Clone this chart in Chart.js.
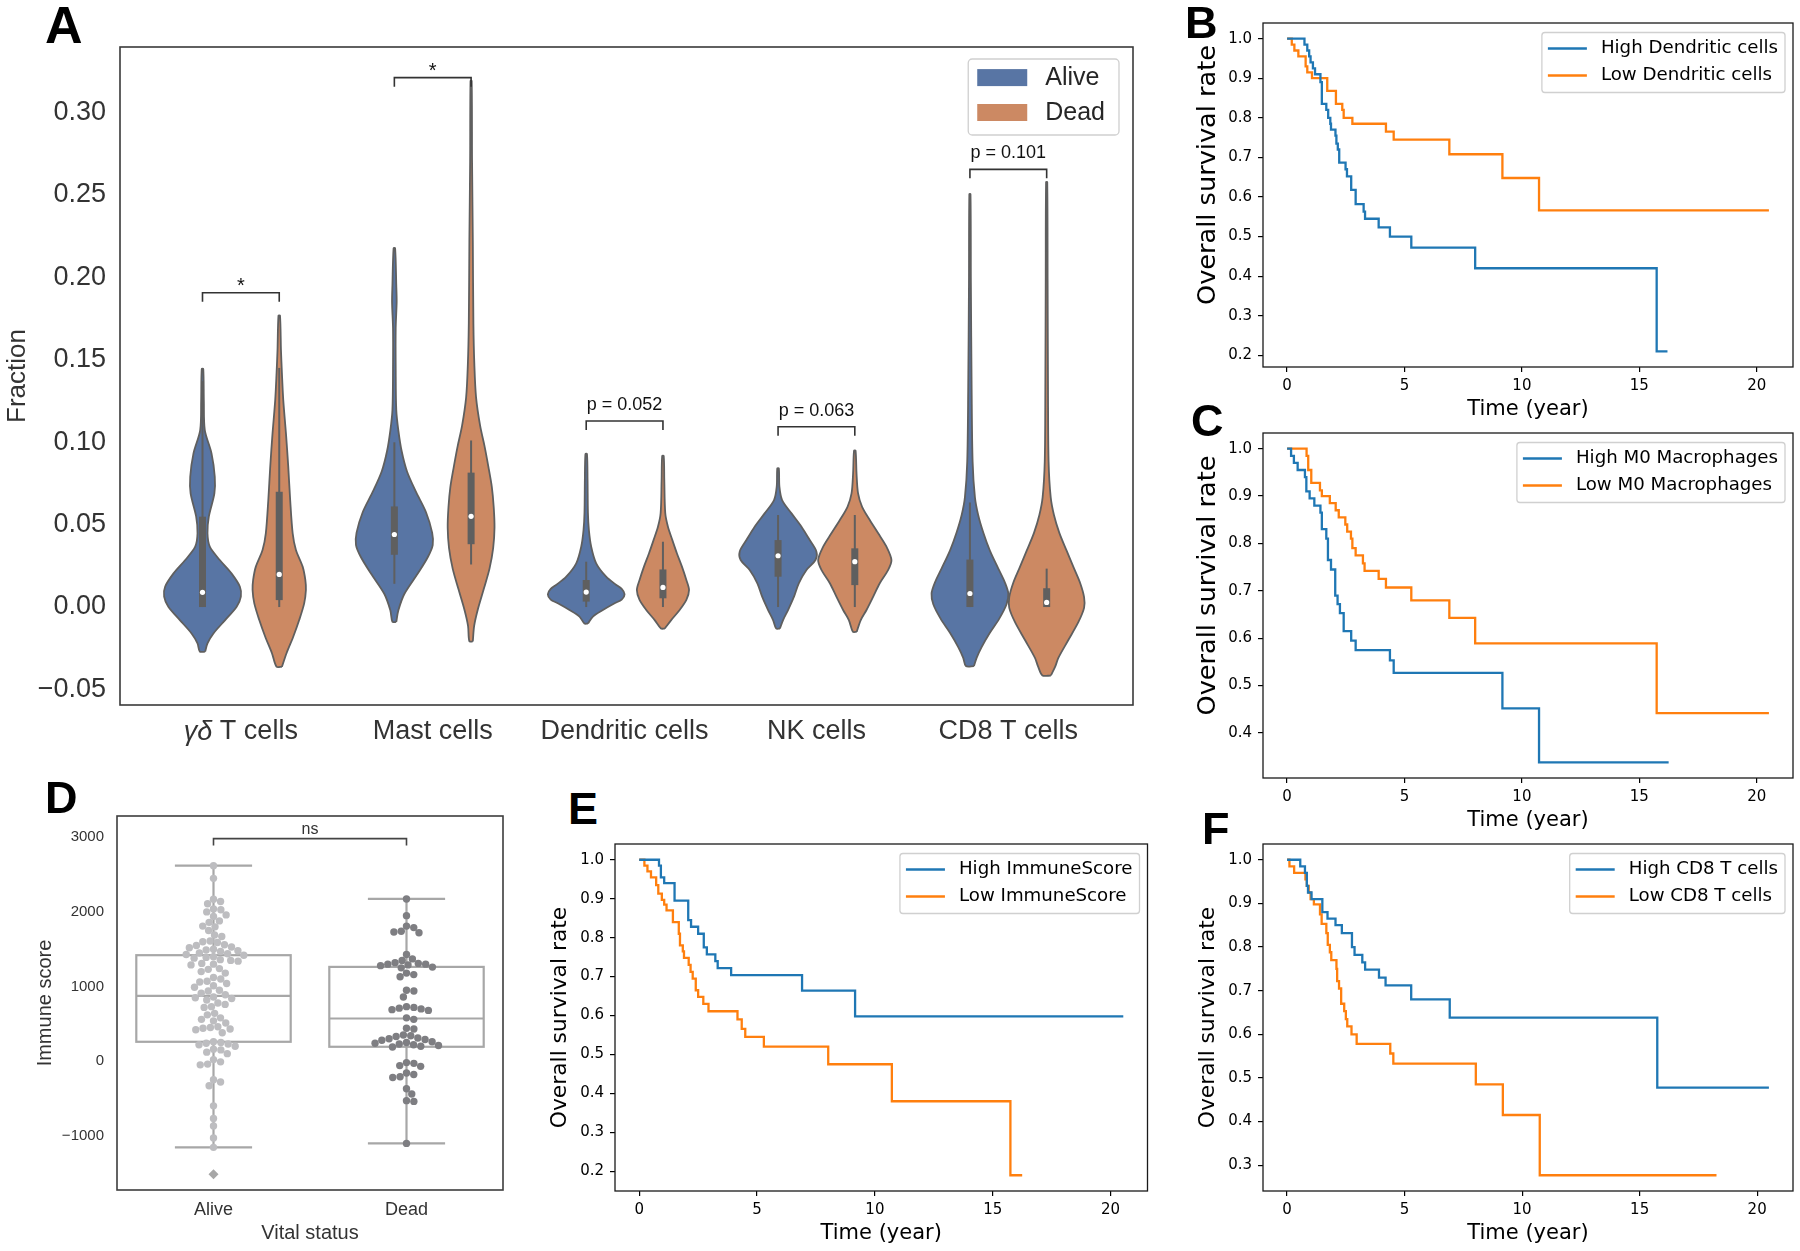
<!DOCTYPE html>
<html><head><meta charset="utf-8">
<script src="https://cdn.jsdelivr.net/npm/chart.js@4.4.1/dist/chart.umd.min.js"></script>
<style>
html,body{margin:0;padding:0;background:#fff;}
body{width:1800px;height:1251px;position:relative;overflow:hidden;}
canvas{position:absolute;}
.lab{position:absolute;font-family:'Liberation Sans',Arial,sans-serif;font-weight:bold;line-height:1;color:#000;}
</style></head><body>
<canvas id="cA" width="1150" height="760" style="left:0px;top:0px;width:1150px;height:760px"></canvas>
<canvas id="cB" width="610" height="422" style="left:1190px;top:0px;width:610px;height:422px"></canvas>
<canvas id="cC" width="610" height="410" style="left:1190px;top:423px;width:610px;height:410px"></canvas>
<canvas id="cD" width="518" height="485" style="left:0px;top:760px;width:518px;height:485px"></canvas>
<canvas id="cE" width="618" height="412" style="left:542px;top:834px;width:618px;height:412px"></canvas>
<canvas id="cF" width="610" height="412" style="left:1190px;top:834px;width:610px;height:412px"></canvas>
<div class="lab" style="left:45px;top:-1px;font-size:52px">A</div>
<div class="lab" style="left:1185px;top:0px;font-size:45px">B</div>
<div class="lab" style="left:1191px;top:398px;font-size:45px">C</div>
<div class="lab" style="left:45px;top:775px;font-size:45px">D</div>
<div class="lab" style="left:568px;top:786px;font-size:45px">E</div>
<div class="lab" style="left:1202px;top:806px;font-size:45px">F</div>
<script>
// ---------------- DATA ----------------
// Panel A (violins)
const catNames = ['γδ T cells', 'Mast cells', 'Dendritic cells', 'NK cells', 'CD8 T cells'];
const hueNames = ['Alive', 'Dead'];
const aYTicks = [-0.05, 0, 0.05, 0.10, 0.15, 0.20, 0.25, 0.30];
// violin outlines: [value, half width]
const gdAlive = [[-0.027,0.014],[-0.022,0.026],[-0.016,0.057],[-0.0079,0.118],[0.0002,0.178],[0.0063,0.2],[0.0123,0.195],[0.0204,0.151],[0.0285,0.09],[0.0366,0.038],[0.0447,0.026],[0.0548,0.033],[0.0689,0.062],[0.079,0.064],[0.0932,0.047],[0.1073,0.012],[0.125,0.007],[0.1443,0.004]];
const gdDead = [[-0.0362,0.014],[-0.028,0.038],[-0.018,0.073],[-0.0079,0.104],[0.0022,0.130],[0.0103,0.139],[0.0164,0.136],[0.0245,0.122],[0.0346,0.087],[0.0447,0.07],[0.0649,0.057],[0.0851,0.047],[0.1053,0.035],[0.1255,0.021],[0.1417,0.014],[0.1559,0.009],[0.1767,0.004]];
const mastAlive = [[-0.009,0.010],[-0.002,0.021],[0.0079,0.052],[0.0203,0.122],[0.0302,0.174],[0.0376,0.2],[0.0451,0.197],[0.0575,0.165],[0.0698,0.113],[0.0822,0.066],[0.0946,0.038],[0.107,0.021],[0.1195,0.010],[0.1443,0.007],[0.169,0.007],[0.185,0.012],[0.1953,0.010],[0.2176,0.004]];
const mastDead = [[-0.0208,0.009],[-0.0114,0.016],[-0.0015,0.035],[0.0109,0.066],[0.0233,0.096],[0.0357,0.115],[0.0481,0.122],[0.0605,0.118],[0.0729,0.108],[0.0852,0.09],[0.0976,0.07],[0.110,0.047],[0.127,0.026],[0.147,0.017],[0.172,0.012],[0.2213,0.009],[0.2707,0.005],[0.319,0.003]];
const dcAlive = [[-0.010,0.009],[-0.0058,0.035],[-0.0018,0.087],[0.0023,0.148],[0.0045,0.185],[0.0078,0.2],[0.011,0.185],[0.0134,0.157],[0.0184,0.104],[0.0265,0.052],[0.0366,0.026],[0.0467,0.014],[0.057,0.009],[0.077,0.007],[0.0928,0.004]];
const dcDead = [[-0.013,0.01],[-0.0079,0.043],[-0.0018,0.087],[0.0043,0.122],[0.0103,0.136],[0.0164,0.122],[0.0245,0.099],[0.0325,0.073],[0.0406,0.049],[0.0487,0.026],[0.057,0.012],[0.077,0.007],[0.0916,0.004]];
const nkAlive = [[-0.013,0.01],[-0.0079,0.026],[-0.0018,0.052],[0.0063,0.083],[0.0144,0.108],[0.0225,0.148],[0.0285,0.195],[0.0336,0.2],[0.0406,0.165],[0.0487,0.122],[0.0568,0.07],[0.0649,0.021],[0.073,0.007],[0.0841,0.004]];
const nkDead = [[-0.015,0.01],[-0.0079,0.031],[-0.0018,0.061],[0.0063,0.096],[0.0144,0.13],[0.0225,0.174],[0.0285,0.191],[0.0366,0.165],[0.0447,0.122],[0.0528,0.078],[0.0608,0.038],[0.0689,0.017],[0.081,0.009],[0.0948,0.004]];
const cd8Alive = [[-0.0358,0.021],[-0.0308,0.035],[-0.0243,0.061],[-0.0156,0.104],[-0.007,0.153],[0.0017,0.191],[0.0082,0.2],[0.0147,0.183],[0.0233,0.148],[0.0342,0.104],[0.045,0.07],[0.0558,0.043],[0.0666,0.026],[0.0883,0.014],[0.1316,0.009],[0.1966,0.005],[0.2503,0.003]];
const cd8Dead = [[-0.0415,0.022],[-0.036,0.045],[-0.0308,0.061],[-0.02,0.113],[-0.0092,0.165],[-0.0005,0.195],[0.006,0.195],[0.0147,0.174],[0.0233,0.143],[0.0342,0.104],[0.045,0.066],[0.0558,0.038],[0.0666,0.021],[0.0883,0.010],[0.1316,0.007],[0.1966,0.005],[0.2577,0.003]];
// inner box statistics per category
const aliveQ1  = [0.0, 0.0317, 0.0033, 0.0184, 0.0];
const aliveMed = [0.0089, 0.044, 0.0091, 0.0311, 0.0082];
const aliveQ3  = [0.0548, 0.061, 0.0164, 0.0406, 0.0288];
const aliveLo  = [0.0, 0.0141, 0.0, 0.0, 0.0];
const aliveHi  = [0.137, 0.0999, 0.0275, 0.0558, 0.0634];
const deadQ1   = [0.0042, 0.0381, 0.0053, 0.0133, 0.0];
const deadMed  = [0.0198, 0.055, 0.0119, 0.0275, 0.0028];
const deadQ3   = [0.0699, 0.0815, 0.0228, 0.0356, 0.0114];
const deadLo   = [0.0, 0.0258, 0.0, 0.0, 0.0];
const deadHi   = [0.145, 0.101, 0.0396, 0.0558, 0.0233];
// significance brackets
const bracketY = [0.1906, 0.321, 0.1128, 0.1093, 0.2654];
const bracketText = ['*', '*', 'p = 0.052', 'p = 0.063', 'p = 0.101'];

// Panel D (immune score)
const vitalCats = ['Alive', 'Dead'];
const dYTicks = [-1000, 0, 1000, 2000, 3000];
const aliveScores = [2620, 2450, 2170, 2140, 2110, 2040, 2030, 2000, 1960, 1940, 1880, 1860, 1810, 1800, 1750, 1690, 1670, 1610, 1600, 1590, 1560, 1550, 1530, 1520, 1500, 1490, 1480, 1470, 1450, 1440, 1430, 1420, 1400, 1390, 1380, 1360, 1350, 1340, 1310, 1300, 1290, 1240, 1230, 1200, 1180, 1120, 1100, 1070, 1060, 1040, 1010, 990, 950, 940, 910, 890, 860, 850, 840, 820, 780, 760, 730, 720, 640, 620, 580, 560, 540, 510, 460, 450, 440, 430, 420, 380, 260, 250, 240, 230, 220, 200, 160, 150, 120, 100, 20, -10, -40, -50, -250, -280, -330, -600, -770, -870, -1030, -1156];
const deadScores = [2174, 1950, 1810, 1790, 1740, 1730, 1720, 1430, 1370, 1350, 1320, 1310, 1300, 1300, 1290, 1280, 1260, 1250, 1180, 1160, 1130, 950, 940, 860, 730, 720, 710, 700, 690, 680, 580, 560, 440, 430, 350, 340, 330, 310, 300, 290, 280, 260, 250, 240, 230, 220, 210, 200, 190, -20, -30, -60, -70, -160, -180, -210, -220, -370, -440, -530, -540, -1103];
const scoreQ1  = [259, 192];
const scoreMed = [875, 571];
const scoreQ3  = [1420, 1263];
const scoreLo  = [-1156, -1103];
const scoreHi  = [2620, 2174];
const scoreFliers = [[-1518], []];
const nsLevel = 2983;

// Kaplan-Meier panels
const kmXTicks = [0, 5, 10, 15, 20];
const bHighT = [0, 0.74, 0.86, 0.94, 1.0, 1.1, 1.19, 1.42, 1.48, 1.67, 1.75, 1.84, 1.87, 2.06, 2.1, 2.16, 2.22, 2.49, 2.55, 2.73, 2.92, 3.26, 3.32, 3.9, 4.38, 5.29, 8.01, 15.74, 16.2];
const bHighS = [1.0, 0.985, 0.97, 0.955, 0.94, 0.925, 0.91, 0.89, 0.835, 0.82, 0.80, 0.785, 0.77, 0.755, 0.735, 0.72, 0.687, 0.67, 0.652, 0.618, 0.582, 0.563, 0.545, 0.523, 0.50, 0.472, 0.42, 0.21, 0.21];
const bLowT = [0, 0.2, 0.31, 0.48, 0.79, 0.86, 1.06, 1.71, 2.08, 2.35, 2.41, 2.78, 4.21, 4.54, 6.91, 9.17, 10.73, 20.52];
const bLowS = [1.0, 0.985, 0.97, 0.955, 0.93, 0.915, 0.90, 0.868, 0.835, 0.82, 0.80, 0.785, 0.765, 0.745, 0.708, 0.648, 0.566, 0.566];
const cHighT = [0, 0.17, 0.29, 0.45, 0.76, 0.82, 0.96, 1.16, 1.42, 1.48, 1.67, 1.74, 1.87, 2.05, 2.15, 2.25, 2.41, 2.73, 2.92, 4.38, 4.54, 9.17, 10.73, 16.25];
const cHighS = [1.0, 0.985, 0.97, 0.955, 0.94, 0.91, 0.895, 0.88, 0.865, 0.83, 0.81, 0.765, 0.745, 0.69, 0.672, 0.653, 0.615, 0.595, 0.575, 0.553, 0.527, 0.452, 0.338, 0.338];
const cLowT = [0, 0.83, 0.9, 1.03, 1.4, 1.48, 1.82, 2.07, 2.2, 2.48, 2.56, 2.72, 2.78, 2.92, 3.23, 3.3, 3.9, 4.21, 5.29, 6.91, 8.01, 15.74, 20.52];
const cLowS = [1.0, 0.985, 0.955, 0.928, 0.912, 0.90, 0.885, 0.87, 0.855, 0.84, 0.825, 0.81, 0.79, 0.775, 0.758, 0.742, 0.725, 0.707, 0.68, 0.643, 0.589, 0.442, 0.442];
const eHighT = [0, 0.84, 0.92, 1.06, 1.5, 2.08, 2.2, 2.5, 2.74, 2.87, 3.23, 3.33, 3.9, 6.91, 9.16, 20.54];
const eHighS = [1.0, 0.985, 0.955, 0.94, 0.895, 0.845, 0.828, 0.81, 0.775, 0.757, 0.74, 0.722, 0.704, 0.664, 0.598, 0.598];
const eLowT = [0, 0.22, 0.35, 0.5, 0.72, 0.81, 0.96, 1.06, 1.16, 1.43, 1.68, 1.73, 1.85, 1.9, 2.1, 2.18, 2.27, 2.4, 2.5, 2.72, 2.94, 4.17, 4.35, 4.5, 5.29, 8.02, 10.72, 15.75, 16.25];
const eLowS = [1.0, 0.985, 0.97, 0.955, 0.935, 0.913, 0.897, 0.885, 0.87, 0.84, 0.81, 0.78, 0.765, 0.748, 0.73, 0.712, 0.695, 0.665, 0.648, 0.63, 0.611, 0.59, 0.566, 0.545, 0.52, 0.475, 0.38, 0.19, 0.19];
const fHighT = [0, 0.56, 0.76, 0.84, 0.89, 1.04, 1.5, 1.72, 2.06, 2.33, 2.76, 2.87, 3.2, 3.32, 3.91, 4.19, 5.28, 6.92, 15.75, 20.5];
const fHighS = [1.0, 0.985, 0.97, 0.94, 0.925, 0.91, 0.88, 0.865, 0.85, 0.832, 0.80, 0.782, 0.765, 0.748, 0.73, 0.712, 0.68, 0.638, 0.478, 0.478];
const fLowT = [0, 0.1, 0.3, 0.78, 0.84, 0.92, 1.0, 1.14, 1.4, 1.47, 1.67, 1.73, 1.82, 1.88, 2.1, 2.13, 2.21, 2.3, 2.43, 2.5, 2.56, 2.74, 2.96, 4.39, 4.52, 8.03, 9.18, 10.75, 18.27];
const fLowS = [1.0, 0.985, 0.97, 0.955, 0.94, 0.925, 0.91, 0.898, 0.875, 0.853, 0.832, 0.805, 0.788, 0.77, 0.75, 0.722, 0.705, 0.67, 0.653, 0.635, 0.618, 0.60, 0.578, 0.556, 0.533, 0.485, 0.415, 0.277, 0.277];
const bNames = ['High Dendritic cells', 'Low Dendritic cells'];
const cNames = ['High M0 Macrophages', 'Low M0 Macrophages'];
const eNames = ['High ImmuneScore', 'Low ImmuneScore'];
const fNames = ['High CD8 T cells', 'Low CD8 T cells'];
const bYTicks = [0.2, 0.3, 0.4, 0.5, 0.6, 0.7, 0.8, 0.9, 1.0];
const cYTicks = [0.4, 0.5, 0.6, 0.7, 0.8, 0.9, 1.0];
const eYTicks = [0.2, 0.3, 0.4, 0.5, 0.6, 0.7, 0.8, 0.9, 1.0];
const fYTicks = [0.3, 0.4, 0.5, 0.6, 0.7, 0.8, 0.9, 1.0];

// ---------------- STYLE ----------------
const ARIAL = "'Liberation Sans', Arial, Helvetica, sans-serif";
const DEJAVU = "'DejaVu Sans', sans-serif";
const BLUE_V = '#5875a4', ORANGE_V = '#cc8963', VGRAY = '#5f5f5f';
const KM_BLUE = '#1f77b4', KM_ORANGE = '#ff7f0e';
const minus = v => (v < 0 ? '\u2212' : '');

// ---------------- PLUGINS ----------------
const framePlugin = {
  id: 'frame',
  afterDraw(chart, args, o) {
    const {ctx, chartArea: a} = chart;
    ctx.save();
    ctx.strokeStyle = o.color || '#000';
    ctx.lineWidth = o.width || 1.3;
    ctx.strokeRect(a.left, a.top, a.right - a.left, a.bottom - a.top);
    ctx.restore();
  }
};
const yLabelPlugin = {
  id: 'yLabel',
  afterDraw(chart, args, o) {
    if (!o || !o.text) return;
    const {ctx, chartArea: a} = chart;
    ctx.save();
    ctx.translate(a.left - o.dx, (a.top + a.bottom) / 2 + o.shift);
    ctx.rotate(-Math.PI / 2);
    ctx.font = o.font; ctx.fillStyle = '#000'; ctx.textAlign = 'center'; ctx.textBaseline = 'middle';
    ctx.fillText(o.text, 0, 0);
    ctx.restore();
  }
};
const boxLegend = {
  id: 'boxLegend',
  afterDraw(chart, args, o) {
    if (!o || !o.items) return;
    const {ctx, chartArea: a} = chart;
    ctx.save();
    ctx.font = o.font;
    const items = [];
    for (let i = 0; i < o.items.length; i++) items.push({text: o.items[i].text, color: o.items[i].color});
    const tw = Math.max(...items.map(it => ctx.measureText(it.text).width));
    const w = o.padL + o.handle + o.gap + tw + o.padR;
    const x = a.right - o.right - w, y = a.top + o.top;
    ctx.beginPath();
    ctx.roundRect(x, y, w, o.height, o.radius);
    ctx.fillStyle = 'rgba(255,255,255,0.85)';
    ctx.fill();
    ctx.strokeStyle = o.border; ctx.lineWidth = 1.3; ctx.stroke();
    items.forEach((it, i) => {
      const ry = y + o.rows[i];
      const hx = x + o.padL;
      if (o.patch) {
        ctx.fillStyle = it.color;
        ctx.fillRect(hx, ry - o.patchH / 2, o.handle, o.patchH);
      } else {
        ctx.strokeStyle = it.color; ctx.lineWidth = o.lineW;
        ctx.beginPath(); ctx.moveTo(hx, ry); ctx.lineTo(hx + o.handle, ry); ctx.stroke();
      }
      ctx.fillStyle = o.textColor; ctx.textBaseline = 'middle'; ctx.textAlign = 'left';
      ctx.fillText(it.text, hx + o.handle + o.gap, ry + (o.textDy || 0));
    });
    ctx.restore();
  }
};
const bracketPlugin = {
  id: 'brackets',
  afterDatasetsDraw(chart) {
    const {ctx} = chart, xs = chart.scales.x, ys = chart.scales.y;
    ctx.save();
    ctx.strokeStyle = '#333'; ctx.lineWidth = 1.6; ctx.fillStyle = '#111';
    ctx.textAlign = 'center';
    bracketY.forEach((bv, i) => {
      const x1 = xs.getPixelForValue(i - 0.2), x2 = xs.getPixelForValue(i + 0.2);
      const yb = ys.getPixelForValue(bv);
      ctx.beginPath();
      ctx.moveTo(x1, yb + 9); ctx.lineTo(x1, yb); ctx.lineTo(x2, yb); ctx.lineTo(x2, yb + 9);
      ctx.stroke();
      const t = bracketText[i];
      if (t === '*') {
        ctx.font = '20px ' + ARIAL; ctx.textBaseline = 'alphabetic';
        ctx.fillText(t, (x1 + x2) / 2, yb - 1);
      } else {
        ctx.font = '18px ' + ARIAL; ctx.textBaseline = 'alphabetic';
        ctx.fillText(t, (x1 + x2) / 2, yb - 11);
      }
    });
    ctx.restore();
  }
};
const catLabelPlugin = {
  id: 'catLabels',
  afterDraw(chart) {
    const {ctx} = chart, xs = chart.scales.x;
    const y = chart.chartArea.bottom + 27;
    ctx.save();
    ctx.fillStyle = '#333'; ctx.textBaseline = 'middle'; ctx.textAlign = 'left';
    catNames.forEach((name, i) => {
      const px = xs.getPixelForValue(i);
      const m = name.match(/^[\u0370-\u03ff]+/);
      const p1 = m ? m[0] : '', p2 = name.slice(p1.length);
      ctx.font = 'italic 27px ' + ARIAL; const w1 = ctx.measureText(p1).width;
      ctx.font = '27px ' + ARIAL; const w2 = ctx.measureText(p2).width;
      let x = px - (w1 + w2) / 2;
      if (p1) { ctx.font = 'italic 27px ' + ARIAL; ctx.fillText(p1, x, y); }
      ctx.font = '27px ' + ARIAL; ctx.fillText(p2, x + w1, y);
    });
    ctx.restore();
  }
};
const boxPlotPlugin = {
  id: 'boxPlot',
  beforeDatasetsDraw(chart) {
    const {ctx} = chart, xs = chart.scales.x, ys = chart.scales.y;
    ctx.save();
    ctx.strokeStyle = '#a7a7a7'; ctx.lineWidth = 2.2; ctx.fillStyle = '#fff';
    vitalCats.forEach((c, i) => {
      const xl = xs.getPixelForValue(i - 0.4), xr = xs.getPixelForValue(i + 0.4);
      const xc = xs.getPixelForValue(i);
      const cl = xs.getPixelForValue(i - 0.2), cr = xs.getPixelForValue(i + 0.2);
      const q1 = ys.getPixelForValue(scoreQ1[i]), q3 = ys.getPixelForValue(scoreQ3[i]);
      const md = ys.getPixelForValue(scoreMed[i]);
      const lo = ys.getPixelForValue(scoreLo[i]), hi = ys.getPixelForValue(scoreHi[i]);
      ctx.fillRect(xl, q3, xr - xl, q1 - q3);
      ctx.strokeRect(xl, q3, xr - xl, q1 - q3);
      ctx.beginPath();
      ctx.moveTo(xl, md); ctx.lineTo(xr, md);
      ctx.moveTo(xc, q3); ctx.lineTo(xc, hi);
      ctx.moveTo(xc, q1); ctx.lineTo(xc, lo);
      ctx.moveTo(cl, hi); ctx.lineTo(cr, hi);
      ctx.moveTo(cl, lo); ctx.lineTo(cr, lo);
      ctx.stroke();
    });
    ctx.restore();
  },
  afterDatasetsDraw(chart) {
    const {ctx} = chart, xs = chart.scales.x, ys = chart.scales.y;
    const x1 = xs.getPixelForValue(0), x2 = xs.getPixelForValue(1), yb = ys.getPixelForValue(nsLevel);
    ctx.save();
    ctx.strokeStyle = '#444'; ctx.lineWidth = 1.6;
    ctx.beginPath(); ctx.moveTo(x1, yb + 7); ctx.lineTo(x1, yb); ctx.lineTo(x2, yb); ctx.lineTo(x2, yb + 7); ctx.stroke();
    ctx.fillStyle = '#333'; ctx.font = '16px ' + ARIAL; ctx.textAlign = 'center'; ctx.textBaseline = 'alphabetic';
    ctx.fillText('ns', (x1 + x2) / 2, yb - 5);
    ctx.restore();
  }
};

// ---------------- PANEL A ----------------
const aliveProfiles = [gdAlive, mastAlive, dcAlive, nkAlive, cd8Alive];
const deadProfiles = [gdDead, mastDead, dcDead, nkDead, cd8Dead];
function violinData(center, prof) {
  const p = prof.slice().sort((a, b) => a[0] - b[0]);
  const right = p.map(([v, w]) => ({x: center + w, y: v}));
  const left = p.slice().reverse().map(([v, w]) => ({x: center - w, y: v}));
  return right.concat(left, [right[0]]);
}
const aDatasets = [];
function addViolin(center, prof, color, q1, med, q3, lo, hi) {
  aDatasets.push({type: 'line', data: violinData(center, prof), fill: 'shape', backgroundColor: color,
    borderColor: VGRAY, borderWidth: 1.8, pointRadius: 0, tension: 0.3, order: 4});
  aDatasets.push({type: 'line', data: [{x: center, y: lo}, {x: center, y: hi}], borderColor: VGRAY,
    borderWidth: 2, pointRadius: 0, fill: false, order: 3});
  aDatasets.push({type: 'line', data: [{x: center, y: q1}, {x: center, y: q3}], borderColor: VGRAY,
    borderWidth: 7, borderCapStyle: 'butt', pointRadius: 0, fill: false, order: 2});
  aDatasets.push({type: 'line', data: [{x: center, y: med}], showLine: false, pointRadius: 2.6,
    pointBackgroundColor: '#fff', pointBorderWidth: 0, order: 1});
}
catNames.forEach((c, i) => {
  addViolin(i - 0.2, aliveProfiles[i], BLUE_V, aliveQ1[i], aliveMed[i], aliveQ3[i], aliveLo[i], aliveHi[i]);
  addViolin(i + 0.2, deadProfiles[i], ORANGE_V, deadQ1[i], deadMed[i], deadQ3[i], deadLo[i], deadHi[i]);
});

new Chart(document.getElementById('cA'), {
  type: 'line',
  data: {datasets: aDatasets},
  options: {
    responsive: false, animation: false, devicePixelRatio: 1,
    layout: {padding: {top: 47, right: 17, left: 0, bottom: 0}},
    plugins: {
      legend: {display: false}, tooltip: {enabled: false},
      frame: {color: '#3a3a3a', width: 1.6},
      boxLegend: {items: [{text: hueNames[0], color: BLUE_V}, {text: hueNames[1], color: ORANGE_V}],
        font: '25px ' + ARIAL, textColor: '#262626', patch: true, patchH: 17, padL: 9, handle: 50, gap: 18, padR: 14,
        height: 76, rows: [18.6, 53.5], right: 14, top: 12, radius: 4, border: '#cfcfcf', textDy: 1}
    },
    scales: {
      x: {type: 'linear', min: -0.63, max: 4.65, ticks: {display: false}, grid: {display: false, drawTicks: false},
        border: {display: false}, afterFit: s => { s.height = 55; s.paddingLeft = 0; s.paddingRight = 0; }},
      y: {type: 'linear', min: -0.0594, max: 0.3396,
        afterBuildTicks: s => { s.ticks = aYTicks.map(v => ({value: v})); },
        ticks: {font: {family: ARIAL, size: 27}, color: '#333', padding: 14,
          callback: v => minus(v) + Math.abs(v).toFixed(2)},
        grid: {display: false, drawTicks: false, tickLength: 0}, border: {display: false},
        title: {display: true, text: 'Fraction', font: {family: ARIAL, size: 26}, color: '#333', padding: {top: 2, bottom: 0}},
        afterFit: s => { s.width = 120; s.paddingTop = 0; s.paddingBottom = 0; }}
    }
  },
  plugins: [framePlugin, boxLegend, bracketPlugin, catLabelPlugin]
});

// ---------------- KM PANELS ----------------
function kmSeries(T, S) { return T.map((t, i) => ({x: t, y: S[i]})); }
function kmChart(id, highT, highS, lowT, lowS, names, yTicks, padTop, padRight, yTitleSize, yTitleShift) {
  const allS = highS.concat(lowS), allT = highT.concat(lowT);
  const sMin = Math.min(...allS), sMax = Math.max(...allS);
  const tMin = Math.min(...allT), tMax = Math.max(...allT);
  const sr = sMax - sMin, tr = tMax - tMin;
  const tickGrid = {display: true, drawOnChartArea: false, drawTicks: true, tickLength: 5, color: '#000', lineWidth: 1.2};
  return new Chart(document.getElementById(id), {
    type: 'line',
    data: {datasets: [
      {data: kmSeries(highT, highS), stepped: true, borderColor: KM_BLUE, borderWidth: 2.3, pointRadius: 0, fill: false},
      {data: kmSeries(lowT, lowS), stepped: true, borderColor: KM_ORANGE, borderWidth: 2.3, pointRadius: 0, fill: false}
    ]},
    options: {
      responsive: false, animation: false, devicePixelRatio: 1,
      layout: {padding: {top: padTop, right: padRight, left: 0, bottom: 0}},
      plugins: {
        legend: {display: false}, tooltip: {enabled: false},
        frame: {color: '#1a1a1a', width: 1.3},
        yLabel: {text: 'Overall survival rate', font: yTitleSize + 'px ' + DEJAVU, dx: 55, shift: yTitleShift},
        boxLegend: {items: [{text: names[0], color: KM_BLUE}, {text: names[1], color: KM_ORANGE}],
          font: '18.2px ' + DEJAVU, textColor: '#000', patch: false, lineW: 2.3, padL: 6, handle: 39, gap: 14, padR: 7,
          height: 60, rows: [16, 43], right: 8, top: 9.5, radius: 3, border: '#d0d0d0', textDy: 0}
      },
      scales: {
        x: {type: 'linear', min: tMin - 0.05 * tr, max: tMax + 0.05 * tr,
          afterBuildTicks: s => { s.ticks = kmXTicks.map(v => ({value: v})); },
          ticks: {font: {family: DEJAVU, size: 15}, color: '#000', padding: 5, maxRotation: 0, autoSkip: false,
            callback: v => String(v)},
          grid: tickGrid, border: {display: false},
          title: {display: true, text: 'Time (year)', font: {family: DEJAVU, size: 21}, color: '#000', padding: {top: 0, bottom: 0}},
          afterFit: s => { s.height = 55; s.paddingLeft = 0; s.paddingRight = 0; }},
        y: {type: 'linear', min: sMin - 0.05 * sr, max: sMax + 0.05 * sr,
          afterBuildTicks: s => { s.ticks = yTicks.map(v => ({value: v})); },
          ticks: {font: {family: DEJAVU, size: 15}, color: '#000', padding: 6, autoSkip: false,
            callback: v => v.toFixed(1)},
          grid: tickGrid, border: {display: false},
          title: {display: false},
          afterFit: s => { s.width = 73; s.paddingTop = 0; s.paddingBottom = 0; }}
      }
    },
    plugins: [framePlugin, yLabelPlugin, boxLegend]
  });
}
kmChart('cB', bHighT, bHighS, bLowT, bLowS, bNames, bYTicks, 23, 7, 25.6, -20);
kmChart('cC', cHighT, cHighS, cLowT, cLowS, cNames, cYTicks, 10, 7, 25.6, -20);
kmChart('cE', eHighT, eHighS, eLowT, eLowS, eNames, eYTicks, 10, 12.5, 21.8, 0);
kmChart('cF', fHighT, fHighS, fLowT, fLowS, fNames, fYTicks, 10, 7, 21.8, 0);

// ---------------- PANEL D ----------------
const chartD = new Chart(document.getElementById('cD'), {
  type: 'scatter',
  data: {datasets: [
    {data: aliveScores.map(v => ({x: 0, y: v})), pointRadius: 3.7, pointBackgroundColor: '#bdbdc0', pointBorderWidth: 0},
    {data: deadScores.map(v => ({x: 1, y: v})), pointRadius: 3.7, pointBackgroundColor: '#7e7e82', pointBorderWidth: 0},
    {data: scoreFliers.flatMap((arr, i) => arr.map(v => ({x: i, y: v}))), pointStyle: 'rectRot', pointRadius: 5,
      pointBackgroundColor: '#a7a7a7', pointBorderWidth: 0}
  ]},
  options: {
    responsive: false, animation: false, devicePixelRatio: 1,
    layout: {padding: {top: 56, right: 15, left: 0, bottom: 0}},
    plugins: {legend: {display: false}, tooltip: {enabled: false}, frame: {color: '#3d3d3d', width: 1.6}},
    scales: {
      x: {type: 'linear', min: -0.5, max: 1.5,
        afterBuildTicks: s => { s.ticks = vitalCats.map((c, i) => ({value: i})); },
        ticks: {font: {family: ARIAL, size: 18}, color: '#333', padding: 9, maxRotation: 0, autoSkip: false,
          callback: (v, i) => vitalCats[i]},
        grid: {display: false, drawTicks: false, tickLength: 0}, border: {display: false},
        title: {display: true, text: 'Vital status', font: {family: ARIAL, size: 20}, color: '#333', padding: {top: 0, bottom: 0}},
        afterFit: s => { s.height = 55; s.paddingLeft = 0; s.paddingRight = 0; }},
      y: {type: 'linear', min: -1728, max: 3286,
        afterBuildTicks: s => { s.ticks = dYTicks.map(v => ({value: v})); },
        ticks: {font: {family: ARIAL, size: 15}, color: '#333', padding: 13, callback: v => minus(v) + Math.abs(v)},
        grid: {display: false, drawTicks: false, tickLength: 0}, border: {display: false},
        title: {display: true, text: 'Immune score', font: {family: ARIAL, size: 20}, color: '#333', padding: {top: 33.5, bottom: 0}},
        afterFit: s => { s.width = 117; s.paddingTop = 0; s.paddingBottom = 0; }}
    }
  },
  plugins: [framePlugin, boxPlotPlugin]
});

// beeswarm layout of points, computed through the chart's scales
function swarm(values, cat, chart, r) {
  const xs = chart.scales.x, ys = chart.scales.y;
  const ppu = xs.getPixelForValue(1) - xs.getPixelForValue(0);
  const d = 2 * r;
  const pts = values.map(v => ({v, py: ys.getPixelForValue(v)})).sort((a, b) => a.py - b.py);
  const placed = [];
  pts.forEach(p => {
    const near = placed.filter(q => Math.abs(q.py - p.py) < d);
    const cands = [0];
    near.forEach(q => { const dx = Math.sqrt(d * d - (q.py - p.py) ** 2); cands.push(q.dx + dx, q.dx - dx); });
    cands.sort((a, b) => Math.abs(a) - Math.abs(b));
    p.dx = 0;
    for (const c of cands) {
      if (near.every(q => (q.dx - c) ** 2 + (q.py - p.py) ** 2 >= d * d - 0.01)) { p.dx = c; break; }
    }
    placed.push(p);
  });
  return placed.map(p => ({x: cat + p.dx / ppu, y: p.v}));
}
chartD.data.datasets[0].data = swarm(aliveScores, 0, chartD, 3.7);
chartD.data.datasets[1].data = swarm(deadScores, 1, chartD, 3.7);
chartD.update('none');
</script>
</body></html>
